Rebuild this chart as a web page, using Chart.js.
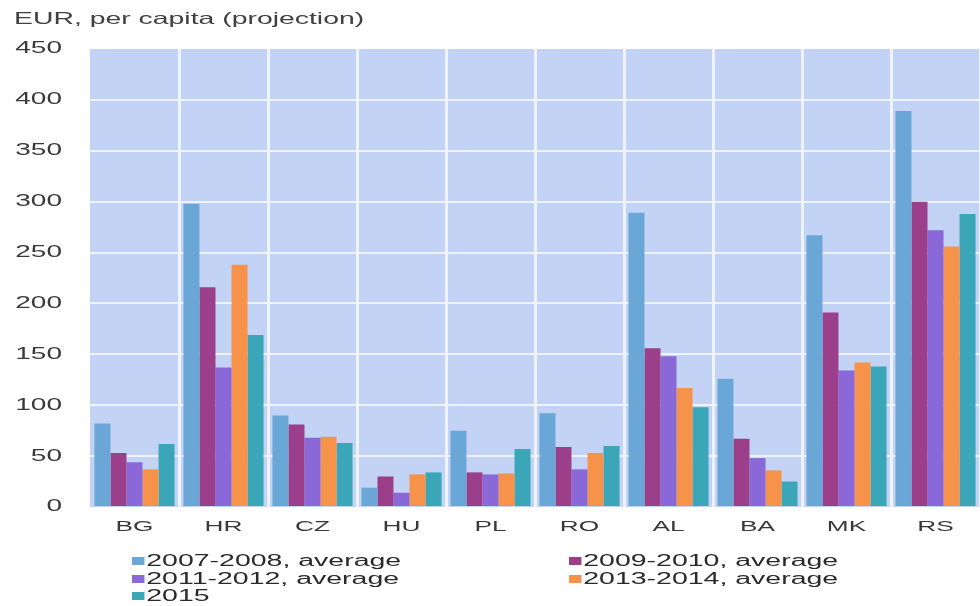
<!DOCTYPE html>
<html>
<head>
<meta charset="utf-8">
<script src="https://cdn.jsdelivr.net/npm/chart.js@4"></script>
<style>
  html, body { margin: 0; padding: 0; background: #ffffff; overflow: hidden; }
  #wrap { position: relative; width: 980px; height: 606px; }
  #c { position: absolute; left: 0; top: 0; }
  #title { position: absolute; left: 14px; top: 9px; font: 16.5px "Liberation Sans", Arial, sans-serif; color: #404040; line-height: 19px; white-space: nowrap; transform: scaleX(1.72); transform-origin: left center; }
  .lg { position: absolute; font: 16px "Liberation Sans", Arial, sans-serif; color: #2a2a2a; line-height: 17px; white-space: nowrap; transform: scaleX(1.78); transform-origin: left center; }
  .lg i { display: inline-block; width: 7px; height: 8px; margin-right: 1px; vertical-align: 1px; }
</style>
</head>
<body>
<div id="wrap">
  <canvas id="c" width="980" height="606"></canvas>
  <div id="title">EUR, per capita (projection)</div>
  <div id="legend"></div>
</div>
<script>
// ---- data ----
const categories = ['BG', 'HR', 'CZ', 'HU', 'PL', 'RO', 'AL', 'BA', 'MK', 'RS'];
const seriesNames = ['2007-2008, average', '2009-2010, average', '2011-2012, average', '2013-2014, average', '2015'];
const avg2007_2008 = [82, 298, 90, 19, 75, 92, 289, 126, 267, 389];
const avg2009_2010 = [53, 216, 81, 30, 34, 59, 156, 67, 191, 300];
const avg2011_2012 = [44, 137, 68, 14, 32, 37, 148, 48, 134, 272];
const avg2013_2014 = [37, 238, 69, 32, 33, 53, 117, 36, 142, 256];
const val2015 = [62, 169, 63, 34, 57, 60, 98, 25, 138, 288];
const yTickValues = [0, 50, 100, 150, 200, 250, 300, 350, 400, 450];

const colors = ['#6ba7d6', '#9c3f8a', '#8a68d8', '#f7924b', '#3ba6b8'];
const allSeries = [avg2007_2008, avg2009_2010, avg2011_2012, avg2013_2014, val2015];

const canvas = document.getElementById('c');
const ctx = canvas.getContext('2d');
// horizontally stretched text like the reference
const SX = 1.75;
const protoFill = CanvasRenderingContext2D.prototype.fillText;
ctx.fillText = function (t, x, y, mw) {
  this.save();
  this.translate(x, y);
  this.scale(SX, 1);
  if (mw !== undefined && mw !== null) protoFill.call(this, t, 0, 0, mw / SX);
  else protoFill.call(this, t, 0, 0);
  this.restore();
};

const bgPlugin = {
  id: 'plotBg',
  beforeDraw(chart) {
    const a = chart.chartArea;
    const c = chart.ctx;
    c.save();
    c.fillStyle = '#c3d3f5';
    c.fillRect(a.left, a.top, a.right - a.left, a.bottom - a.top);
    c.restore();
  }
};

const gridCol = '#eef3fd';
const chart = new Chart(ctx, {
  type: 'bar',
  data: {
    labels: categories,
    datasets: allSeries.map((d, i) => ({
      label: seriesNames[i],
      data: d,
      backgroundColor: colors[i],
      borderWidth: 0,
      categoryPercentage: 0.9,
      barPercentage: 1.0
    }))
  },
  options: {
    responsive: false,
    animation: false,
    layout: { padding: { top: 49, left: 0, right: 0, bottom: 69 } },
    plugins: { legend: { display: false }, title: { display: false }, tooltip: { enabled: false } },
    scales: {
      x: {
        grid: {
          offset: true,
          drawTicks: false,
          lineWidth: 3,
          color: (c) => (c.index === 0 ? 'rgba(0,0,0,0)' : gridCol)
        },
        border: { display: false },
        ticks: {
          color: '#383838',
          font: { family: '"Liberation Sans", Arial, sans-serif', size: 15 },
          padding: 11
        },
        afterFit(scale) { scale.height = 30; }
      },
      y: {
        min: 0,
        max: 450,
        afterBuildTicks(scale) { scale.ticks = yTickValues.map(v => ({ value: v })); },
        grid: {
          drawTicks: false,
          lineWidth: 2,
          color: (c) => (c.tick && (c.tick.value === 0 || c.tick.value === 450) ? 'rgba(0,0,0,0)' : gridCol)
        },
        border: { display: false },
        ticks: {
          color: '#3a3a3a',
          font: { family: '"Liberation Sans", Arial, sans-serif', size: 16 },
          padding: 28
        },
        afterFit(scale) { scale.width = 90; }
      }
    }
  },
  plugins: [bgPlugin]
});

// legend (two columns, row-major) built from chart datasets
const legend = document.getElementById('legend');
const colX = [132, 569];
const rowY = [552, 570, 587];
chart.data.datasets.forEach((ds, i) => {
  const el = document.createElement('div');
  el.className = 'lg';
  el.style.left = colX[i % 2] + 'px';
  el.style.top = rowY[Math.floor(i / 2)] + 'px';
  const sw = document.createElement('i');
  sw.style.background = ds.backgroundColor;
  el.appendChild(sw);
  el.appendChild(document.createTextNode(ds.label));
  legend.appendChild(el);
});
</script>
</body>
</html>
